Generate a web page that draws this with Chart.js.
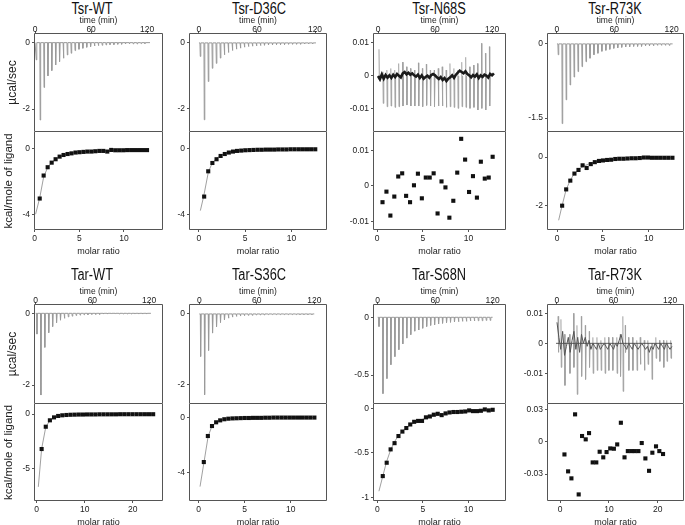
<!DOCTYPE html>
<html>
<head>
<meta charset="utf-8">
<script src="https://cdn.jsdelivr.net/npm/chart.js@4.4.1/dist/chart.umd.min.js"></script>
<style>
  body { margin: 0; background: #fff; width: 685px; height: 525px; position: relative; overflow: hidden; }
  canvas { position: absolute; }
  .ttl { position: absolute; width: 120px; text-align: center; font: 16px "Liberation Sans", Arial, sans-serif; color: #111; line-height: 18px; transform: scaleX(0.8); }
</style>
</head>
<body>
<script>
const FONT = '"Liberation Sans", Arial, sans-serif'
Chart.defaults.font.family = FONT
Chart.defaults.color = '#222'

// injection times (min), shared by the clean traces
const injTimes = [1, 5.15, 9.3, 13.45, 17.6, 21.75, 25.9, 30.05, 34.2, 38.35, 42.5, 46.65, 50.8, 54.95, 59.1,
  63.25, 67.4, 71.55, 75.7, 79.85, 84, 88.15, 92.3, 96.45, 100.6, 104.75, 108.9, 113.05, 117.2]

// injection peak heights (µcal/sec)
const tsrWtPeaks = [-0.52, -2.33, -1.35, -1.0, -0.84, -0.67, -0.57, -0.47, -0.37, -0.32, -0.24, -0.2, -0.17, -0.14, -0.12,
  -0.1, -0.09, -0.08, -0.07, -0.06, -0.06, -0.05, -0.05, -0.04, -0.04, -0.04, -0.04, -0.03, -0.03]
const tsrD36cPeaks = [-0.41, -2.33, -1.17, -0.77, -0.62, -0.46, -0.36, -0.29, -0.23, -0.19, -0.16, -0.13, -0.11, -0.1, -0.09,
  -0.08, -0.07, -0.06, -0.06, -0.05, -0.05, -0.05, -0.04, -0.04, -0.04, -0.04, -0.03, -0.03, -0.03]
const tsrR73kPeaks = [-0.22, -1.61, -1.13, -0.83, -0.67, -0.56, -0.46, -0.36, -0.29, -0.22, -0.19, -0.15, -0.13, -0.11, -0.09,
  -0.08, -0.07, -0.06, -0.06, -0.05, -0.05, -0.05, -0.04, -0.04, -0.04, -0.03, -0.03, -0.03, -0.03]
const tarWtPeaks = [-0.58, -2.28, -0.95, -0.54, -0.37, -0.26, -0.19, -0.14, -0.1, -0.08, -0.06, -0.05, -0.04, -0.04, -0.03,
  -0.03, -0.03, -0.02, -0.02, -0.02, -0.02, -0.02, -0.02, -0.02, -0.02, -0.02, -0.02, -0.02, -0.02]
const tarS36cPeaks = [-1.2, -2.28, -1.03, -0.54, -0.36, -0.24, -0.17, -0.12, -0.09, -0.07, -0.06, -0.05, -0.04, -0.04, -0.03,
  -0.03, -0.03, -0.02, -0.02, -0.02, -0.02, -0.02, -0.02, -0.02, -0.02, -0.02, -0.02, -0.02, -0.02]
const tarS68nPeaks = [-0.08, -0.66, -0.53, -0.41, -0.34, -0.28, -0.23, -0.18, -0.15, -0.12, -0.11, -0.095, -0.08, -0.07, -0.065,
  -0.058, -0.052, -0.046, -0.043, -0.04, -0.038, -0.035, -0.035, -0.032, -0.032, -0.03, -0.03, -0.027, -0.027]

// noisy traces: spike low / high per injection and the baseline wobble
const tsrN68sLow = [-0.0012, -0.0083, -0.0093, -0.0091, -0.0095, -0.0093, -0.0091, -0.0088, -0.0091, -0.0091, -0.0091, -0.0093,
  -0.0089, -0.0091, -0.0093, -0.0091, -0.0091, -0.0095, -0.0093, -0.0095, -0.0098, -0.0093, -0.0095, -0.0098, -0.0095, -0.0103,
  -0.0098, -0.0103, -0.0091]
const tsrN68sHigh = [0.0081, 0.0013, 0.0018, 0.0023, 0.0018, 0.0038, 0.0042, 0.0028, 0.0023, 0.0018, 0.004, 0.0023, 0.0036,
  0.0018, 0.0018, 0.0023, 0.0028, 0.0018, 0.0038, 0.0023, 0.0018, 0.0042, 0.0057, 0.0028, 0.0033, 0.0038, 0.0099, 0.0069, 0.0089]
const noiseTimes = [0, 2, 4, 6, 8, 10, 12, 14, 16, 18, 20, 22, 24, 26, 28, 30, 32, 34, 36, 38, 40, 42, 44, 46, 48, 50, 52, 54,
  56, 58, 60, 62, 64, 66, 68, 70, 72, 74, 76, 78, 80, 82, 84, 86, 88, 90, 92, 94, 96, 98, 100, 102, 104, 106, 108, 110, 112,
  114, 116, 118, 120, 122]
const tsrN68sNoise = [0, -0.001, 0.0005, -0.0008, 0.0003, -0.0005,
  0.0002, -0.0006, 0.0004, -0.0003, 0.0006, 0.0001, -0.0004, 0.0008, 0.0012, 0.0005,
  0.001, 0.0004, 0.0008, 0.0002, -0.0002, 0.0004, -0.0006, 0.0002, -0.0008, -0.0003,
  0.0001, -0.0005, 0.0003, 0.0006, 0.0002, -0.0004, -0.0009, -0.0003, -0.0012, -0.0006,
  -0.0015, -0.0008, -0.0004, 0.0002, -0.0006, 0.0004, 0.001, 0.0016, 0.0012, 0.0008,
  0.0014, 0.0006, 0.0002, -0.0004, 0.0003, -0.0002, 0.0005, -0.0006, 0.0002, -0.0003,
  0.0004, 0.0001, -0.0005, 0.0006, 0.0002, 0.0008]

const tarR73kTimes = [1.1, 4.2, 8.1, 13.4, 17.6, 21.2, 25.8, 30, 34.2, 38.1, 42.4, 46.6, 50.8, 54.7, 58.9, 63.5, 67.1, 69.9,
  72.4, 75.9, 80.2, 84.7, 88.2, 92.5, 96.4, 100.6, 104.9, 108.8, 113, 116.5, 120.7]
const tarR73kLow = [-0.003, -0.008, -0.014, -0.01, -0.008, -0.017, -0.011, -0.012, -0.008, -0.01, -0.009, -0.009, -0.01, -0.009,
  -0.009, -0.01, -0.011, -0.016, -0.003, -0.009, -0.009, -0.009, -0.007, -0.009, -0.007, -0.012, -0.005, -0.006, -0.008, -0.006, -0.005]
const tarR73kHigh = [0.009, 0.008, 0.003, 0.003, 0.01, 0.006, 0.009, 0.006, 0.004, 0.002, 0.002, 0.001, 0.002, 0.002, 0.002,
  0.002, 0.003, 0.009, 0.006, 0.002, 0.002, 0.001, 0.002, 0.001, 0.001, 0, 0.002, 0.001, 0.001, 0.001, 0.001]
const tarR73kNoise = [0.007, 0.002, -0.002, 0.004, -0.004, -0.001, 0.002, -0.003, 0.001, 0.004,
  -0.002, 0.002, -0.003, 0.003, 0, 0.002, -0.001, 0.001, -0.002, 0,
  -0.001, -0.002, 0, -0.002, -0.001, 0, -0.001, -0.002, 0, -0.001,
  -0.002, 0, -0.001, 0.001, 0.003, 0, -0.001, -0.002, 0, -0.001,
  -0.002, 0, -0.001, -0.002, -0.001, 0, -0.001, -0.002, -0.001, -0.003,
  -0.001, -0.002, 0, -0.001, -0.002, 0, -0.001, -0.002, 0, -0.001,
  -0.002, -0.001]

// molar ratios
const ratio28 = [0.56, 1.0, 1.45, 1.9, 2.34, 2.79, 3.23, 3.68, 4.12, 4.57, 5.01, 5.46, 5.9, 6.35, 6.79, 7.24, 7.68, 8.13,
  8.57, 9.02, 9.46, 9.91, 10.35, 10.8, 11.24, 11.69, 12.13, 12.58]
const ratio29 = [0.6, 1.03, 1.46, 1.89, 2.32, 2.75, 3.18, 3.61, 4.04, 4.47, 4.9, 5.33, 5.76, 6.19, 6.62, 7.05, 7.48, 7.91,
  8.34, 8.77, 9.2, 9.63, 10.06, 10.49, 10.92, 11.35, 11.78, 12.21, 12.64]
const ratioTarWt = [1.03, 1.89, 2.75, 3.61, 4.47, 5.33, 6.19, 7.05, 7.91, 8.77, 9.63, 10.49, 11.35, 12.21, 13.07, 13.93,
  14.79, 15.65, 16.51, 17.37, 18.23, 19.09, 19.95, 20.81, 21.67, 22.53, 23.39, 24.25]
const ratioTarR73k = [0.88, 1.63, 2.31, 3.06, 3.8, 4.49, 5.24, 5.92, 6.67, 7.41, 8.1, 8.84, 9.52, 10.27, 11.02, 11.7, 12.45,
  13.2, 13.88, 14.63, 15.31, 16.05, 16.73, 17.48, 18.23, 18.91, 19.66, 20.34, 21.1]

// integrated heats (kcal/mole of ligand)
const tsrWtHeat = [-3.04, -1.63, -1.12, -0.84, -0.63, -0.47, -0.37, -0.31, -0.27, -0.22, -0.2, -0.18, -0.16, -0.16, -0.14,
  -0.12, -0.12, -0.16, -0.06, -0.08, -0.08, -0.08, -0.07, -0.07, -0.07, -0.07, -0.07, -0.07]
const tsrD36cHeat = [-2.92, -1.37, -0.86, -0.63, -0.43, -0.31, -0.22, -0.16, -0.12, -0.1, -0.08, -0.07, -0.06, -0.05, -0.05,
  -0.04, -0.04, -0.04, -0.03, -0.03, -0.03, -0.02, -0.02, -0.02, -0.02, -0.02, -0.02, -0.02]
const tsrN68sHeat = [-0.0046, -0.0016, -0.0084, -0.003, 0.0027, 0.0036, -0.0028, -0.0046, 0.0002, 0.0035, -0.0035, 0.0024,
  0.0024, 0.0036, -0.0078, 0.0013, -0.0004, -0.009, -0.0042, 0.0038, 0.0134, 0.0075, -0.0017, 0.0028, -0.0033, 0.0069,
  0.0021, 0.0024, 0.0083]
const tsrR73kHeat = [-2.0, -1.33, -0.97, -0.68, -0.53, -0.34, -0.45, -0.29, -0.21, -0.16, -0.14, -0.12, -0.11, -0.08, -0.07,
  -0.07, -0.06, -0.05, -0.05, -0.04, -0.02, -0.02, -0.03, -0.03, -0.03, -0.03, -0.03, -0.03]
const tarWtHeat = [-3.22, -1.17, -0.58, -0.31, -0.18, -0.12, -0.09, -0.07, -0.06, -0.05, -0.05, -0.04, -0.04, -0.04, -0.03,
  -0.03, -0.03, -0.03, -0.03, -0.02, -0.02, -0.02, -0.02, -0.02, -0.02, -0.02, -0.02, -0.02]
const tarS36cHeat = [-3.23, -1.35, -0.63, -0.36, -0.22, -0.14, -0.1, -0.08, -0.07, -0.06, -0.05, -0.05, -0.04, -0.04, -0.04,
  -0.03, -0.03, -0.02, -0.02, -0.02, -0.02, -0.02, -0.02, -0.02, -0.02, -0.02, -0.02, -0.02]
const tarS68nHeat = [-0.76, -0.61, -0.46, -0.39, -0.31, -0.26, -0.22, -0.18, -0.15, -0.14, -0.14, -0.1, -0.09, -0.07, -0.06,
  -0.075, -0.056, -0.045, -0.04, -0.04, -0.037, -0.034, -0.022, -0.03, -0.03, -0.026, -0.011, -0.022, -0.015]
const tarR73kHeat = [-0.0118, -0.0275, -0.034, 0.0254, -0.0489, 0.0053, 0.0022, 0.008, -0.0192, -0.0192, -0.0093, -0.0145,
  -0.0096, -0.0062, -0.0065, -0.0025, 0.0176, -0.0145, -0.0087, -0.0087, -0.0087, -0.0087, -0.0012, -0.0155, -0.027,
  -0.0102, -0.0043, -0.0087, -0.0114]

// fitted curves
const tsrWtFitX = [0.1, 0.56, 1.0, 1.46, 1.9, 2.35, 2.76, 3.2, 3.66, 4.5, 6, 8, 10, 12.6]
const tsrWtFitY = [-4.0, -3.0, -1.72, -1.12, -0.83, -0.63, -0.48, -0.38, -0.31, -0.22, -0.15, -0.11, -0.08, -0.07]
const tsrD36cFitX = [0.15, 0.51, 1.02, 1.42, 1.82, 2.23, 2.63, 3.03, 3.5, 4.5, 6, 8, 10, 12.6]
const tsrD36cFitY = [-3.78, -2.9, -1.4, -0.88, -0.62, -0.44, -0.32, -0.23, -0.17, -0.11, -0.07, -0.05, -0.03, -0.02]
const tsrR73kFitX = [0.18, 0.55, 0.99, 1.42, 1.82, 2.26, 2.66, 3.1, 3.5, 4, 5, 6, 8, 10, 12.6]
const tsrR73kFitY = [-2.6, -2.0, -1.35, -0.97, -0.72, -0.55, -0.43, -0.34, -0.28, -0.22, -0.15, -0.11, -0.07, -0.05, -0.03]
const tarWtFitX = [0.34, 1.03, 1.89, 2.75, 3.61, 4.47, 6, 8, 12, 16, 20, 24.25]
const tarWtFitY = [-6.7, -3.2, -1.2, -0.58, -0.32, -0.19, -0.1, -0.06, -0.04, -0.03, -0.02, -0.02]
const tarS36cFitX = [0.15, 0.59, 1.03, 1.43, 1.87, 2.28, 2.72, 3.1, 4, 5, 7, 10, 12.6]
const tarS36cFitY = [-5.0, -3.2, -1.38, -0.66, -0.37, -0.23, -0.15, -0.11, -0.07, -0.05, -0.03, -0.02, -0.02]
const tarS68nFitX = [0.18, 0.58, 1.01, 1.45, 1.85, 2.28, 2.72, 3.12, 3.55, 4, 5, 6, 7, 8, 9, 10, 11, 12.54]
const tarS68nFitY = [-0.93, -0.77, -0.6, -0.47, -0.38, -0.31, -0.26, -0.22, -0.19, -0.16, -0.12, -0.09, -0.07, -0.055,
  -0.045, -0.035, -0.028, -0.02]

// tick labels
const timeTicks = [0, 60, 120]

// page geometry of the plot boxes
const COLS = [[34, 163], [189, 327], [373, 506], [547, 684]]
const ROWS = [[33, 132, 230], [304, 404, 501]]
const TITLE_X = [92, 259, 439, 615]
const TITLE_Y = [0, 266]

const TRACE = '#9a9a9a'

// continuous raw trace: baseline with one sharp dip per injection
function rawTrace(times, peaks, end) {
  const data = [{ x: 0, y: 0 }]
  times.forEach((t, i) => {
    data.push({ x: t, y: 0 }, { x: t + 0.35, y: peaks[i] }, { x: t + 0.9, y: 0 })
  })
  data.push({ x: end, y: 0 })
  return { order: 1, borderColor: TRACE, borderWidth: 1, pointRadius: 0, data }
}
// separate up/down spikes for the noisy traces
function spikes(times, lows, highs) {
  const data = []
  times.forEach((t, i) => {
    data.push({ x: t, y: highs[i] }, { x: t + 0.35, y: lows[i] }, { x: t + 0.9, y: 0 }, { x: t + 0.9, y: null })
  })
  return { order: 2, borderColor: '#a0a0a0', borderWidth: 1, pointRadius: 0, spanGaps: false, data }
}
function flat(x0, x1, color) {
  return { order: 1, borderColor: color, borderWidth: 0.8, pointRadius: 0, data: [{ x: x0, y: 0 }, { x: x1, y: 0 }] }
}
function trace(xs, ys, color, width) {
  return { order: 0, borderColor: color, borderWidth: width, pointRadius: 0, data: xs.map((x, i) => ({ x, y: ys[i] })) }
}
function fit(xs, ys) {
  return { type: 'line', order: 1, borderColor: '#888', borderWidth: 0.8, pointRadius: 0, data: xs.map((x, i) => ({ x, y: ys[i] })) }
}
function pts(xs, ys) {
  return {
    order: 0, pointStyle: 'rect', pointRadius: 2.9, backgroundColor: '#111', borderWidth: 0,
    data: xs.map((x, i) => ({ x, y: ys[i] }))
  }
}

const frame = {
  id: 'frame',
  afterDatasetsDraw(chart, args, opts) {
    const a = chart.chartArea
    const ctx = chart.ctx
    const l = Math.round(a.left) + 0.5, r = Math.round(a.right) - 0.5
    const t = Math.round(a.top) + 0.5, b = Math.round(a.bottom) - 0.5
    ctx.save()
    ctx.strokeStyle = '#555'
    ctx.lineWidth = 1
    ctx.beginPath()
    ctx.moveTo(l, opts.top ? t : t - 1)
    ctx.lineTo(l, b); ctx.lineTo(r, b); ctx.lineTo(r, opts.top ? t : t - 1)
    if (opts.top) { ctx.lineTo(l, t) }
    ctx.stroke()
    ctx.restore()
  }
}

function axis(pos, range, ticks, fitFn, title, pad) {
  return {
    type: 'linear', position: pos, min: range[0], max: range[1], offset: false,
    afterBuildTicks: s => { s.ticks = ticks.map(v => ({ value: v })) },
    afterFit: s => {
      fitFn(s)
      s.paddingTop = 0; s.paddingBottom = 0; s.paddingLeft = 0; s.paddingRight = 0
    },
    ticks: { font: { size: 8.5 }, color: '#222', padding: pad, autoSkip: false, maxRotation: 0, callback: v => String(v) },
    grid: { offset: false, drawOnChartArea: false, drawTicks: true, tickLength: 2, color: '#555' },
    border: { display: false },
    title: title ? Object.assign({ display: true, color: '#222' }, title) : { display: false }
  }
}

function mk(x, y, w, h) {
  const c = document.createElement('canvas')
  c.width = w; c.height = h
  c.style.left = x + 'px'; c.style.top = y + 'px'
  c.style.width = w + 'px'; c.style.height = h + 'px'
  document.body.appendChild(c)
  return c
}

function common(frameTop) {
  return {
    responsive: false, animation: false, devicePixelRatio: 1, events: [],
    layout: { padding: { top: 0, left: 0, right: 1, bottom: 1 }, autoPadding: false },
    plugins: { legend: { display: false }, tooltip: { enabled: false }, frame: { top: frameTop } }
  }
}

function panel(p) {
  const [L, R] = COLS[p.col]
  const [T, D, B] = ROWS[p.row]
  const aw = p.col === 0 ? L : 30
  const w = R - L + aw + 1
  const first = p.col === 0

  const d = document.createElement('div')
  d.className = 'ttl'
  d.textContent = p.name
  d.style.left = (TITLE_X[p.col] - 60) + 'px'
  d.style.top = TITLE_Y[p.row] + 'px'
  document.body.appendChild(d)

  const top = mk(L - aw, T - 24, w, D - T + 25)
  new Chart(top, {
    type: 'line',
    data: { datasets: p.topSets },
    options: Object.assign(common(true), {
      scales: {
        x: axis('top', p.time, timeTicks, s => { s.height = 24 },
          { text: 'time (min)', font: { size: 8.5 }, padding: { top: 7, bottom: 0 } }, -4),
        y: axis('left', p.yTop, p.topTicks, s => { s.width = aw },
          first ? { text: 'µcal/sec', font: { size: 12 }, padding: { top: 5, bottom: 0 } } : null, 2)
      }
    }),
    plugins: [frame]
  })

  const bot = mk(L - aw, D, w, B - D + 29)
  new Chart(bot, {
    type: 'scatter',
    data: { datasets: p.botSets },
    options: Object.assign(common(false), {
      scales: {
        x: axis('bottom', p.ratio, p.ratioTicks, s => { s.height = 28 },
          { text: 'molar ratio', font: { size: 9 }, padding: { top: 0, bottom: 1 } }, 2),
        y: axis('left', p.yBot, p.botTicks, s => { s.width = aw },
          first ? { text: 'kcal/mole of ligand', font: { size: 11.5 }, padding: { top: 2, bottom: 0 } } : null, 2)
      }
    }),
    plugins: [frame]
  })
}

panel({
  name: 'Tsr-WT', col: 0, row: 0, time: [-1.1, 136.9], yTop: [-2.69, 0.29], topTicks: [0, -2],
  yBot: [-4.97, 1.04], botTicks: [0, -4], ratio: [-0.08, 14.37], ratioTicks: [0, 5, 10],
  topSets: [rawTrace(injTimes, tsrWtPeaks, 123)],
  botSets: [pts(ratio28, tsrWtHeat), fit(tsrWtFitX, tsrWtFitY)]
})
panel({
  name: 'Tsr-D36C', col: 1, row: 0, time: [-10.3, 132.4], yTop: [-2.7, 0.3], topTicks: [0, -2],
  yBot: [-4.97, 1.04], botTicks: [0, -4], ratio: [-1.08, 13.85], ratioTicks: [0, 5, 10],
  topSets: [rawTrace(injTimes, tsrD36cPeaks, 121)],
  botSets: [pts(ratio28, tsrD36cHeat), fit(tsrD36cFitX, tsrD36cFitY)]
})
panel({
  name: 'Tsr-N68S', col: 2, row: 0, time: [-5.3, 134.7], yTop: [-0.01697, 0.01303], topTicks: [0.01, 0, -0.01],
  yBot: [-0.0125, 0.01534], botTicks: [0.01, 0, -0.01], ratio: [-0.44, 14.1], ratioTicks: [0, 5, 10],
  topSets: [spikes(injTimes, tsrN68sLow, tsrN68sHigh), trace(noiseTimes, tsrN68sNoise, '#1a1a1a', 2.6)],
  botSets: [pts(ratio29, tsrN68sHeat)]
})
panel({
  name: 'Tsr-R73K', col: 3, row: 0, time: [-10.4, 132.9], yTop: [-1.78, 0.22], topTicks: [0, -1.5],
  yBot: [-3.0, 1.03], botTicks: [0, -2], ratio: [-1.09, 13.84], ratioTicks: [0, 5, 10],
  topSets: [rawTrace(injTimes, tsrR73kPeaks, 121)],
  botSets: [pts(ratio28, tsrR73kHeat), fit(tsrR73kFitX, tsrR73kFitY)]
})
panel({
  name: 'Tar-WT', col: 0, row: 1, time: [-1.8, 134.8], yTop: [-2.53, 0.26], topTicks: [0, -2],
  yBot: [-8.0, 0.92], botTicks: [0, -5], ratio: [-0.56, 26.3], ratioTicks: [0, 10, 20],
  topSets: [rawTrace(injTimes, tarWtPeaks, 122)],
  botSets: [pts(ratioTarWt, tarWtHeat), fit(tarWtFitX, tarWtFitY)]
})
panel({
  name: 'Tar-S36C', col: 1, row: 1, time: [-10.8, 133.3], yTop: [-2.54, 0.28], topTicks: [0, -2],
  yBot: [-6.04, 0.96], botTicks: [0, -4], ratio: [-1.05, 13.95], ratioTicks: [0, 5, 10],
  topSets: [rawTrace(injTimes, tarS36cPeaks, 120)],
  botSets: [pts(ratio28, tarS36cHeat), fit(tarS36cFitX, tarS36cFitY)]
})
panel({
  name: 'Tar-S68N', col: 2, row: 1, time: [-4.9, 134], yTop: [-0.75, 0.115], topTicks: [0, -0.5],
  yBot: [-1.04, 0.05], botTicks: [0, -0.5, -1], ratio: [-0.47, 14.1], ratioTicks: [0, 5, 10],
  topSets: [rawTrace(injTimes, tarS68nPeaks, 120)],
  botSets: [pts(ratio29, tarS68nHeat), fit(tarS68nFitX, tarS68nFitY)]
})
panel({
  name: 'Tar-R73K', col: 3, row: 1, time: [-10.6, 134.8], yTop: [-0.0202, 0.0131], topTicks: [0.01, 0, -0.01],
  yBot: [-0.055, 0.035], botTicks: [0.03, 0, -0.03], ratio: [-2.7, 25.4], ratioTicks: [0, 10, 20],
  topSets: [spikes(tarR73kTimes, tarR73kLow, tarR73kHigh), trace(noiseTimes, tarR73kNoise, '#555', 1), flat(-1, 122, '#333')],
  botSets: [pts(ratioTarR73k, tarR73kHeat)]
})
</script>
</body>
</html>
